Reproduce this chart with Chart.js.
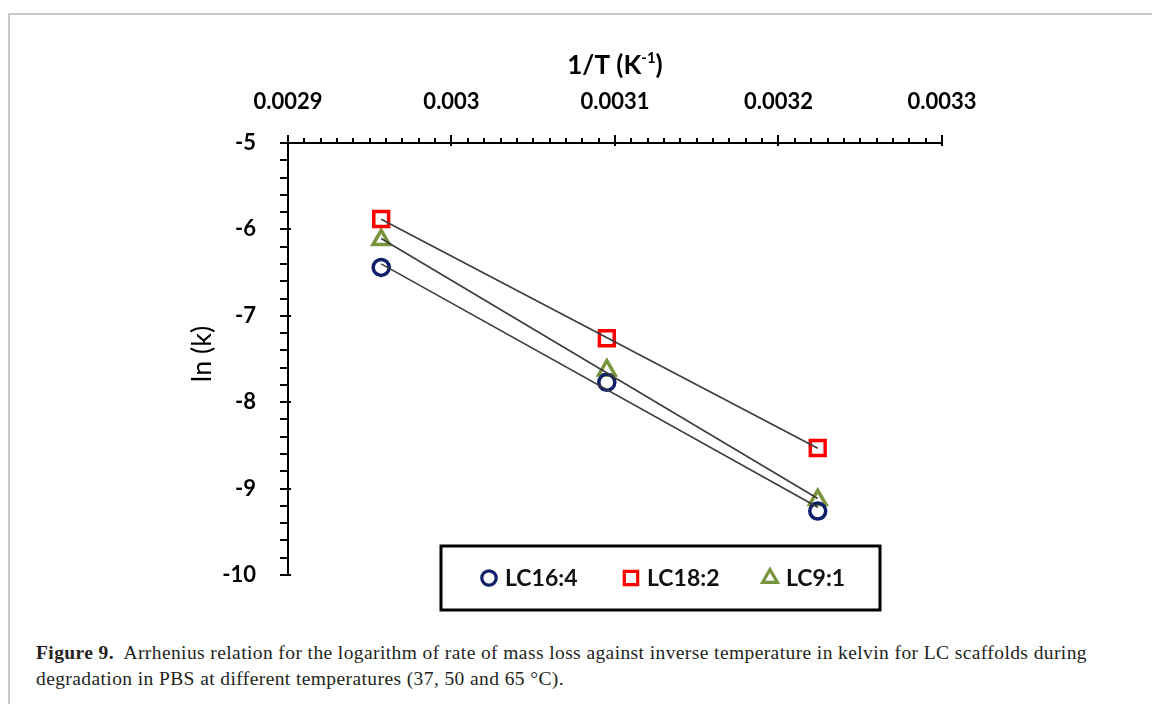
<!DOCTYPE html>
<html>
<head>
<meta charset="utf-8">
<script src="https://cdn.jsdelivr.net/npm/chart.js@4.4.1/dist/chart.umd.min.js"></script>
<style>
  html, body { margin: 0; padding: 0; background: #fff; }
  #frame { position: absolute; left: 8px; top: 13px; width: 1150px; height: 700px;
           border-top: 2px solid #c8c8c8; border-left: 2px solid #c8c8c8; }
  #wrap { position: absolute; left: 0; top: 0; width: 1152px; height: 625px; }
  #caption { position: absolute; left: 36px; top: 640px; width: 1110px;
             font-family: "Liberation Serif", "DejaVu Serif", serif; font-size: 19.5px;
             letter-spacing: 0.4px; line-height: 26px; color: #231f20; white-space: nowrap; }
</style>
</head>
<body>
<div id="frame"></div>
<div id="wrap"><canvas id="c"></canvas></div>
<div id="caption"><b>Figure 9.</b>&nbsp; Arrhenius relation for the logarithm of rate of mass loss against inverse temperature in kelvin for LC scaffolds during<br>degradation in PBS at different temperatures (37, 50 and 65 °C).</div>
<script>
// Inverse absolute temperature (65, 50 and 37 °C)
const inverseTemp = [0.002957, 0.003095, 0.003224];
// ln(k) for each scaffold composition
const lc16_4 = [-6.44, -7.77, -9.26];
const lc18_2 = [-5.88, -7.26, -8.53];
const lc9_1  = [-6.12, -7.63, -9.13];

const seriesNames = ['LC16:4', 'LC18:2', 'LC9:1'];
const xTickLabels = ['0.0029', '0.003', '0.0031', '0.0032', '0.0033'];
const yTickLabels = ['-10', '-9', '-8', '-7', '-6', '-5'];

const X_MIN = 0.0029, X_MAX = 0.0033, X_STEP = 0.0001;
const Y_MIN = -10, Y_MAX = -5;

const styles = [
  { color: '#0f2068', pointStyle: 'circle',   radius: 8 },
  { color: '#ff0000', pointStyle: 'rect',     radius: 10.5 },
  { color: '#77933c', pointStyle: 'triangle', radius: 9.5 }
];

// least-squares straight line through a series, evaluated at its first and last x
function trend(xs, ys) {
  const n = xs.length;
  const mx = xs.reduce((a, b) => a + b, 0) / n;
  const my = ys.reduce((a, b) => a + b, 0) / n;
  let sxy = 0, sxx = 0;
  for (let i = 0; i < n; i++) { sxy += (xs[i] - mx) * (ys[i] - my); sxx += (xs[i] - mx) ** 2; }
  const m = sxy / sxx, b = my - m * mx;
  const x0 = Math.min(...xs), x1 = Math.max(...xs);
  return [{ x: x0, y: m * x0 + b }, { x: x1, y: m * x1 + b }];
}

const seriesValues = [lc16_4, lc18_2, lc9_1];
const datasets = [];
seriesValues.forEach((vals, i) => {
  datasets.push({
    label: seriesNames[i] + ' trend',
    data: trend(inverseTemp, vals),
    showLine: true, borderColor: '#3c3c3c', borderWidth: 1.6,
    pointRadius: 0, order: 0
  });
});
seriesValues.forEach((vals, i) => {
  datasets.push({
    label: seriesNames[i],
    data: inverseTemp.map((x, k) => ({ x, y: vals[k] })),
    showLine: false,
    pointStyle: styles[i].pointStyle,
    pointRadius: styles[i].radius,
    pointBorderWidth: 3.5,
    pointBorderColor: styles[i].color,
    pointBackgroundColor: 'rgba(0,0,0,0)',
    order: 1
  });
});

const FONT = 'Lato, "Open Sans", sans-serif';

// axis tick marks, axis titles and the framed legend
const decor = {
  id: 'decor',
  afterDraw(chart) {
    const { ctx, chartArea: a, scales: { x, y } } = chart;
    ctx.save();
    ctx.strokeStyle = '#000';
    ctx.lineWidth = 2;
    // top axis: majors every 0.0001, minors every 0.00001
    for (let i = 0; i <= 40; i++) {
      const px = Math.round(x.getPixelForValue(X_MIN + i * X_STEP / 10));
      const major = i % 10 === 0;
      ctx.beginPath();
      ctx.moveTo(px, a.top + (major ? 3 : 0));
      ctx.lineTo(px, a.top - (major ? 8 : 5));
      ctx.stroke();
    }
    // left axis: majors every 1, minors every 0.2
    for (let i = 0; i <= 25; i++) {
      const py = Math.round(y.getPixelForValue(Y_MIN + i * 0.2));
      const major = i % 5 === 0;
      ctx.beginPath();
      ctx.moveTo(a.left + (major ? 3 : 0), py);
      ctx.lineTo(a.left - 8, py);
      ctx.stroke();
    }

    ctx.fillStyle = '#000';
    // x title with superscript
    const cx = (a.left + a.right) / 2, ty = 66;
    const big = 'bold 26px ' + FONT, small = 'bold 15px ' + FONT;
    ctx.textBaseline = 'middle';
    const p1 = '1/T (K', p2 = '-1', p3 = ')';
    ctx.font = small;
    const w2 = ctx.measureText(p2).width;
    ctx.font = big;
    const w1 = ctx.measureText(p1).width, w3 = ctx.measureText(p3).width;
    const sx = cx - (w1 + w2 + w3) / 2;
    ctx.textAlign = 'left';
    ctx.fillText(p1, sx, ty);
    ctx.font = small;
    ctx.fillText(p2, sx + w1, ty - 8);
    ctx.font = big;
    ctx.fillText(p3, sx + w1 + w2, ty);

    // y title
    ctx.save();
    ctx.translate(202, (a.top + a.bottom) / 2 - 5);
    ctx.rotate(-Math.PI / 2);
    ctx.textAlign = 'center';
    ctx.font = '27px ' + FONT;
    ctx.fillText('ln (k)', 0, 0);
    ctx.restore();

    // legend box
    const lx = 441, ly = 546, lw = 439, lh = 64;
    ctx.lineWidth = 3;
    ctx.strokeRect(lx, ly, lw, lh);
    const itemX = [489, 631, 770];
    const my = ly + lh / 2;
    ctx.font = 'bold 23px ' + FONT;
    seriesNames.forEach((name, i) => {
      ctx.save();
      ctx.strokeStyle = styles[i].color;
      ctx.fillStyle = 'rgba(0,0,0,0)';
      ctx.lineWidth = 3.2;
      Chart.helpers.drawPoint(ctx, {
        pointStyle: styles[i].pointStyle, radius: styles[i].radius * 0.9,
        rotation: 0, borderWidth: 3.2
      }, itemX[i], my);
      ctx.restore();
      ctx.fillStyle = '#111';
      ctx.textAlign = 'left';
      ctx.fillText(name, itemX[i] + 16, my + 1);
    });
    ctx.restore();
  }
};

new Chart(document.getElementById('c'), {
  type: 'scatter',
  data: { datasets },
  options: {
    responsive: true,
    maintainAspectRatio: false,
    animation: false,
    layout: { padding: { left: 0, top: 0, right: 210, bottom: 50 } },
    plugins: { legend: { display: false }, tooltip: { enabled: false } },
    scales: {
      x: {
        type: 'linear', position: 'top', min: X_MIN, max: X_MAX,
        afterFit: s => { s.height = 143; },
        grid: { display: false },
        border: { display: true, color: '#000', width: 2 },
        ticks: {
          stepSize: X_STEP, padding: 20, color: '#000',
          font: { family: FONT, size: 22, weight: 'bold' },
          callback: (v, i) => xTickLabels[i]
        }
      },
      y: {
        type: 'linear', position: 'left', min: Y_MIN, max: Y_MAX,
        afterFit: s => { s.width = 288; },
        grid: { display: false },
        border: { display: true, color: '#000', width: 2 },
        ticks: {
          stepSize: 1, padding: 24, color: '#000',
          font: { family: FONT, size: 22, weight: 'bold' },
          callback: (v, i) => yTickLabels[i]
        }
      }
    }
  },
  plugins: [decor]
});
</script>
</body>
</html>
